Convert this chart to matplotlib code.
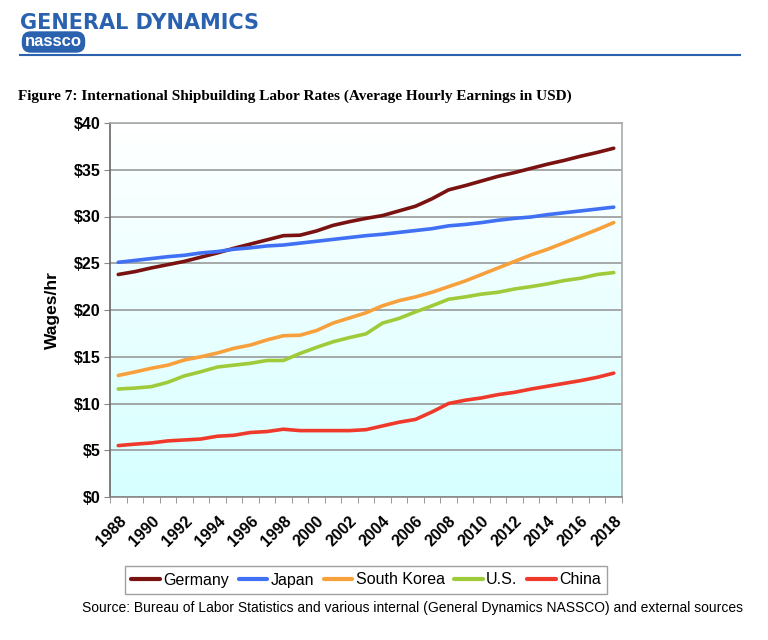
import matplotlib
matplotlib.use('Agg')
import matplotlib.pyplot as plt
import numpy as np

years = list(range(1988, 2019))
germany = [23.8, 24.1, 24.5, 24.85, 25.2, 25.65, 26.1, 26.6, 27.05, 27.5, 27.95, 28.0,
           28.45, 29.05, 29.45, 29.8, 30.1, 30.6, 31.1, 31.9, 32.85, 33.3, 33.8, 34.3,
           34.7, 35.15, 35.6, 36.0, 36.45, 36.85, 37.3]
japan = [25.1, 25.3, 25.5, 25.7, 25.85, 26.1, 26.25, 26.5, 26.65, 26.85, 26.95, 27.15,
         27.35, 27.55, 27.75, 27.95, 28.1, 28.3, 28.5, 28.7, 29.0, 29.15, 29.35, 29.6,
         29.8, 29.95, 30.2, 30.4, 30.6, 30.8, 31.0]
south_korea = [13.0, 13.37, 13.77, 14.1, 14.65, 15.0, 15.4, 15.9, 16.25, 16.8, 17.25, 17.3,
               17.8, 18.6, 19.15, 19.7, 20.45, 21.0, 21.4, 21.9, 22.5, 23.1, 23.8, 24.5,
               25.2, 25.9, 26.5, 27.2, 27.9, 28.6, 29.35]
us = [11.55, 11.65, 11.8, 12.27, 12.95, 13.4, 13.9, 14.1, 14.3, 14.6, 14.6, 15.35,
      16.0, 16.6, 17.05, 17.45, 18.6, 19.1, 19.8, 20.45, 21.15, 21.4, 21.7, 21.9,
      22.25, 22.5, 22.8, 23.15, 23.4, 23.8, 24.0]
china = [5.5, 5.65, 5.78, 6.0, 6.1, 6.2, 6.5, 6.6, 6.9, 7.0, 7.25, 7.1,
         7.1, 7.1, 7.1, 7.2, 7.6, 8.0, 8.3, 9.1, 10.0, 10.35, 10.6, 10.95,
         11.2, 11.55, 11.85, 12.15, 12.45, 12.8, 13.25]

series = [('Germany', germany, '#7a1212'),
          ('Japan', japan, '#4070f4'),
          ('South Korea', south_korea, '#f7a03c'),
          ('U.S.', us, '#9fcb3a'),
          ('China', china, '#ef3a2b')]

plt.rcParams['font.family'] = ['Liberation Sans', 'DejaVu Sans']

fig = plt.figure(figsize=(7.68, 6.4), dpi=100)
fig.patch.set_facecolor('white')

# header
fig.text(20/768, 1 - 23/640, 'GENERAL DYNAMICS', fontsize=15, fontweight='bold',
         color='#2a62b0', va='center', ha='left', family='DejaVu Sans')
fig.text(25/768, 1 - 42/640, 'nassco', fontsize=12, color='white', va='center', ha='left',
         fontweight='bold',
         bbox=dict(boxstyle='round,pad=0.15,rounding_size=0.5', fc='#2a62b0', ec='#2a62b0'))
fig.add_artist(plt.Line2D([20/768, 740/768], [1 - 55/640, 1 - 55/640],
                          color='#2a62b0', lw=1.5, transform=fig.transFigure))

fig.text(18/768, 1 - 96/640,
         'Figure 7: International Shipbuilding Labor Rates (Average Hourly Earnings in USD)',
         fontsize=11, fontweight='bold', family='Liberation Serif', va='center', ha='left')

ax = fig.add_axes([110/768, 1 - 497/640, 512/768, 374/640])
x = np.arange(len(years))

# gradient background: white at top, pale cyan at bottom
grad = np.linspace(0, 1, 256).reshape(-1, 1)
top = np.array([1.0, 1.0, 1.0])
bot = np.array([0.84, 1.0, 1.0])
img = top + (bot - top) * grad[:, :, None]
ax.imshow(img, extent=[-0.5, len(years) - 0.5, 0, 40], aspect='auto', zorder=0)

for name, vals, col in series:
    ax.plot(x, vals, color=col, lw=2.6, label=name, zorder=3, solid_capstyle='round')

ax.set_xlim(-0.5, len(years) - 0.5)
ax.set_ylim(0, 40)
ax.set_yticks(range(0, 41, 5))
ax.set_yticklabels(['$%d' % v for v in range(0, 41, 5)], fontsize=11.5, fontweight='bold')
ax.grid(axis='y', color='#999999', lw=1.2, zorder=1)
ax.set_axisbelow(True)

ax.set_xticks(x[::2])
ax.set_xticklabels([str(y) for y in years[::2]], rotation=45, ha='right',
                   rotation_mode='anchor', fontsize=11.5, fontweight='bold')
ax.set_xticks(np.arange(-0.5, len(years), 1), minor=True)
ax.tick_params(axis='x', which='major', length=0, pad=12)
ax.tick_params(axis='x', which='minor', length=4, color='#888888', direction='out')
ax.tick_params(axis='y', length=4, color='#888888', pad=3)

for s in ax.spines.values():
    s.set_color('#aaaaaa')
    s.set_linewidth(1.2)
ax.spines['left'].set_color('#666666')
ax.spines['bottom'].set_color('#888888')

ax.set_ylabel('Wages/hr', fontsize=12.5, fontweight='bold', labelpad=10)

leg = fig.legend(loc='center', bbox_to_anchor=(366/768, 1 - 580/640), ncol=5,
                 fontsize=11.5, frameon=True, fancybox=False, edgecolor='#888888',
                 handlelength=1.8, handletextpad=0.2, columnspacing=0.6,
                 borderpad=0.4)
leg.get_frame().set_linewidth(1.0)
for h in leg.get_lines():
    h.set_linewidth(3)

fig.text(413/768, 1 - 608/640,
         'Source: Bureau of Labor Statistics and various internal (General Dynamics NASSCO) and external sources',
         fontsize=10, ha='center', va='center')

fig.savefig('out.png', dpi=100, facecolor='white')
